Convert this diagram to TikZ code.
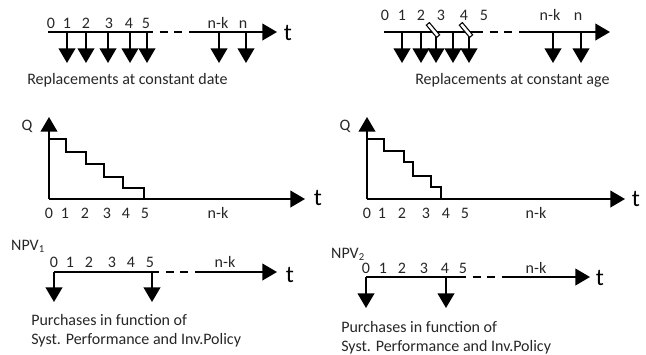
\documentclass[tikz,border=0pt]{standalone}
\usepackage{fontspec}
\setmainfont{Carlito}
\usetikzlibrary{arrows.meta}
\tikzset{
  bigtri/.tip={Triangle[width=12.5pt,length=11pt]},
  axis/.style={line width=1.5pt,-bigtri},
  drop/.style={line width=1.5pt,-bigtri},
  seg/.style={line width=1.5pt},
  gap/.style={line width=1.5pt,dash pattern=on 6pt off 5pt},
  stair/.style={line width=1.5pt},
  lbl/.style={font=\fontsize{12}{14}\selectfont,inner sep=0pt,text height=8pt,text depth=0pt,text=black!85},
  captxt/.style={font=\fontsize{12}{14}\selectfont,inner sep=0pt,anchor=west,text=black!85},
  tname/.style={font=\fontsize{18}{20}\selectfont,inner sep=0pt},
  cutmark/.style={draw,fill=white,line width=0.8pt,rectangle,minimum width=12pt,minimum height=3pt,inner sep=0pt,rotate=-50},
}
\begin{document}
\begin{tikzpicture}[x=0.75pt,y=-0.75pt]
\useasboundingbox (0,0) rectangle (646,354);

% ---------- replacements at constant date ----------
\coordinate (a0) at (48,32);
\coordinate (a1) at (145,32);
\coordinate (a2) at (190,32);
\coordinate (a3) at (277,32);
\draw[seg] (a0) -- (a1);
\draw[gap] (a1) -- (a2);
\draw[axis] (a2) -- (a3);
\node[tname] (at) at (288,33) {t};
\foreach \x/\s [count=\i] in {51/0,67/1,86/2,109/3,129/4,146/5,218/n-k,243/n}
  \node[lbl] (al\i) at (\x,23) {\s};
\foreach \x [count=\i] in {67,86,108,130,147,219,246}{
  \coordinate (au\i) at (\x,32);
  \coordinate (ad\i) at (\x,63);
  \draw[drop] (au\i) -- (ad\i);
}
\node[captxt] (acap) at (27,80) {Replacements at constant date};

% ---------- replacements at constant age ----------
\coordinate (b0) at (384,32);
\coordinate (b1) at (475,32);
\coordinate (b2) at (523,32);
\coordinate (b3) at (610,32);
\draw[seg] (b0) -- (b1);
\draw[gap] (b1) -- (b2);
\draw[axis] (b2) -- (b3);
\foreach \x/\s [count=\i] in {385/0,402/1,421/2,441/3,464/4,484/5,550/n-k,578/n}
  \node[lbl] (bl\i) at (\x,15) {\s};
\foreach \x [count=\i] in {402,421,436,453,469,553,581}{
  \coordinate (bu\i) at (\x,32);
  \coordinate (bd\i) at (\x,63);
  \draw[drop] (bu\i) -- (bd\i);
}
\node[cutmark] (bm1) at (433,30) {};
\node[cutmark] (bm2) at (466,30) {};
\node[captxt] (bcap) at (415,80) {Replacements at constant age};

% ---------- stock level, constant date ----------
\coordinate (c0) at (49,199);
\coordinate (cy) at (49,117);
\coordinate (cx) at (305,199);
\draw[axis] (c0) -- (cy);
\draw[axis] (c0) -- (cx);
\coordinate (cs0) at (49,139);
\coordinate (cs1) at (66,152);
\coordinate (cs2) at (86,164);
\coordinate (cs3) at (104,177);
\coordinate (cs4) at (123,188);
\coordinate (cs5) at (144,199);
\draw[stair] (cs0) -| (cs1) -| (cs2) -| (cs3) -| (cs4) -| (cs5);
\node[tname] (ct) at (318,198) {t};
\node[lbl] (cq) at (27,125) {Q};
\foreach \x/\s [count=\i] in {49/0,65/1,85/2,107/3,126/4,145/5,218/n-k}
  \node[lbl] (cl\i) at (\x,213) {\s};

% ---------- stock level, constant age ----------
\coordinate (d0) at (367,199);
\coordinate (dy) at (367,117);
\coordinate (dx) at (625,199);
\draw[axis] (d0) -- (dy);
\draw[axis] (d0) -- (dx);
\coordinate (ds0) at (367,139);
\coordinate (ds1) at (384,151);
\coordinate (ds2) at (404,162);
\coordinate (ds3) at (413,176);
\coordinate (ds4) at (431,187);
\coordinate (ds5) at (441,199);
\draw[stair] (ds0) -| (ds1) -| (ds2) -| (ds3) -| (ds4) -| (ds5);
\node[tname] (dt) at (636,199) {t};
\node[lbl] (dq) at (345,125) {Q};
\foreach \x/\s [count=\i] in {367/0,382/1,402/2,426/3,446/4,465/5,536/n-k}
  \node[lbl] (dl\i) at (\x,213) {\s};

% ---------- purchases, NPV 1 ----------
\node[lbl] (enpv) at (28,245) {NPV\textsubscript{1}};
\coordinate (e0) at (54,272);
\coordinate (e1) at (151,272);
\coordinate (e2) at (195,272);
\coordinate (e3) at (277,272);
\draw[seg] (e0) -- (e1);
\draw[gap] (e1) -- (e2);
\draw[axis] (e2) -- (e3);
\node[tname] (et) at (290,275) {t};
\foreach \x/\s [count=\i] in {54/0,70/1,89/2,112/3,131/4,150/5,225/n-k}
  \node[lbl] (el\i) at (\x,262) {\s};
\coordinate (eu1) at (54,272);  \coordinate (ed1) at (54,302);
\coordinate (eu2) at (152,272); \coordinate (ed2) at (152,302);
\draw[drop] (eu1) -- (ed1);
\draw[drop] (eu2) -- (ed2);
\node[captxt] (ecap1) at (31,320) {Purchases in function of};
\node[captxt] (ecap2) at (31,340) {Syst. Performance and Inv.Policy};

% ---------- purchases, NPV 2 ----------
\node[lbl] (fnpv) at (348,253) {NPV\textsubscript{2}};
\coordinate (f0) at (366,277);
\coordinate (f1) at (458,277);
\coordinate (f2) at (505,277);
\coordinate (f3) at (590,277);
\draw[seg] (f0) -- (f1);
\draw[gap] (f1) -- (f2);
\draw[axis] (f2) -- (f3);
\node[tname] (ft) at (600,278) {t};
\foreach \x/\s [count=\i] in {366/0,383/1,402/2,424/3,445/4,463/5,536/n-k}
  \node[lbl] (fl\i) at (\x,268) {\s};
\coordinate (fu1) at (366,277); \coordinate (fd1) at (366,308);
\coordinate (fu2) at (446,277); \coordinate (fd2) at (446,308);
\draw[drop] (fu1) -- (fd1);
\draw[drop] (fu2) -- (fd2);
\node[captxt] (fcap1) at (341,327) {Purchases in function of};
\node[captxt] (fcap2) at (341,347) {Syst. Performance and Inv.Policy};
\end{tikzpicture}
\end{document}
